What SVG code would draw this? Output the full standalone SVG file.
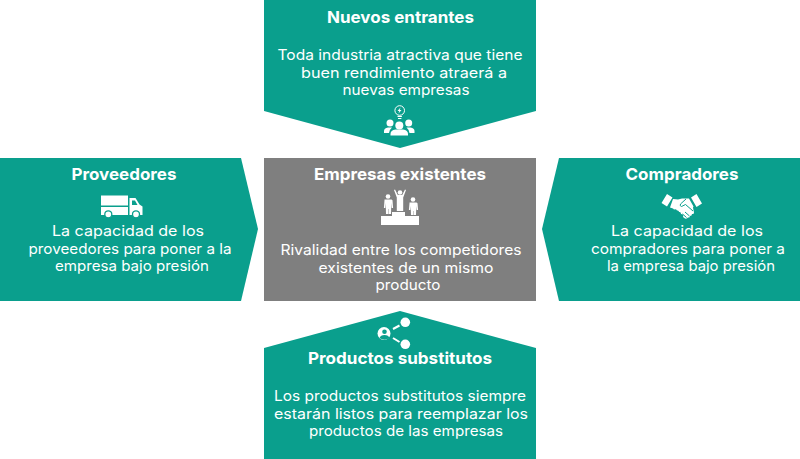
<svg xmlns="http://www.w3.org/2000/svg" width="800" height="459" viewBox="0 0 800 459">
<style>
.t{fill:#0a9f8d}.g{fill:#7f7f7f}
text{fill:#fff;font-family:Inter,"Open Sans","Liberation Sans",sans-serif;text-anchor:middle}
.h{font-size:16.5px;font-weight:700}
.b{font-size:14.5px;font-weight:400}
.w{fill:#fff}.s{stroke:#fff;fill:none;stroke-width:1.5}
.c{stroke:#0a9f8d;fill:none;stroke-width:1}
</style>
<rect width="800" height="459" fill="#fff"/>
<g id="nuevos-entrantes">
<polygon class="t" points="264,0 536,0 536,111 400,148 264,111"/>
<text class="h" x="400.500" y="23" textLength="147" lengthAdjust="spacingAndGlyphs">Nuevos entrantes</text>
<text class="b" x="400" y="60" textLength="245" lengthAdjust="spacingAndGlyphs">Toda industria atractiva que tiene</text>
<text class="b" x="404" y="78" textLength="206" lengthAdjust="spacingAndGlyphs">buen rendimiento atraerá a</text>
<text class="b" x="406" y="95" textLength="127" lengthAdjust="spacingAndGlyphs">nuevas empresas</text>
<g>
<circle class="s" cx="399.700" cy="110.500" r="4.800" style="stroke-width:1"/>
<path class="w" d="M400.500 107.500l-3 3.500h1.800l-.8 2.500 3-3.500h-1.800z"/>
<path class="s" style="stroke-width:1" d="M397.500 116.500h4.400M398 118.500h3.400"/>
<circle class="w" cx="390" cy="123" r="3.500"/><circle class="w" cx="408.700" cy="123" r="3.500"/><circle class="w" cx="399.300" cy="125.500" r="4"/>
<path class="w" d="M384 133v-2q0-3 4-3.500h4q-2.500 2-3 5.500zM414.500 133v-2q0-3-4-3.500h-4q2.500 2 3 5.500zM390.500 135.500v-1.500q0-4 5-4.500h7.500q5 .5 5 4.500v1.500z"/>
</g>
</g>
<g id="empresas-existentes">
<rect class="g" x="264" y="158" width="272" height="143"/>
<text class="h" x="400" y="180" textLength="172" lengthAdjust="spacingAndGlyphs">Empresas existentes</text>
<text class="b" x="401" y="255" textLength="241" lengthAdjust="spacingAndGlyphs">Rivalidad entre los competidores</text>
<text class="b" x="406" y="273" textLength="175" lengthAdjust="spacingAndGlyphs">existentes de un mismo</text>
<text class="b" x="408" y="290" textLength="65" lengthAdjust="spacingAndGlyphs">producto</text>
<g>
<path class="w" d="M381 225v-9h11v-4h13v4h14v9z"/>
<circle class="w" cx="388" cy="196.500" r="2.300"/><circle class="w" cx="400" cy="192.500" r="2.300"/><circle class="w" cx="413" cy="199.500" r="2.300"/>
<path class="w" d="M384.500 199.500h7l1 .8.600 7.700h-1.400l-.4-5-.3 11h-2.300v-5h-.4v5h-2.300l-.3-11-.4 5h-1.400l.6-7.700z"/>
<path class="w" d="M394 190l1 -.4 2.800 5.400h4.400l2.800-5.400 1 .4-2.800 7.500v13.500h-6.400v-13.500z"/>
<path class="w" d="M409.500 202.500h7l1 .8.600 6.700h-1.400l-.4-4-.3 9h-2.300v-4h-.4v4h-2.300l-.3-9-.4 4h-1.400l.6-6.700z"/>
</g>
</g>
<g id="proveedores">
<polygon class="t" points="0,158 241,158 258,229 241,301 0,301"/>
<text class="h" x="124" y="180" textLength="105" lengthAdjust="spacingAndGlyphs">Proveedores</text>
<text class="b" x="128" y="236" textLength="152" lengthAdjust="spacingAndGlyphs">La capacidad de los</text>
<text class="b" x="130" y="254" textLength="203" lengthAdjust="spacingAndGlyphs">proveedores para poner a la</text>
<text class="b" x="132" y="271" textLength="154" lengthAdjust="spacingAndGlyphs">empresa bajo presión</text>
<g>
<rect class="w" x="101" y="195.500" width="27" height="10"/>
<rect class="w" x="101" y="207" width="27" height="8"/>
<path class="w" d="M129.500 198h6l4 6.500 3 2v8.500h-13z"/>
<path class="t" d="M132 200.500h3l2.500 4.500h-5.500z"/>
<circle class="w" cx="108.300" cy="214.300" r="3.500" stroke="#0a9f8d" stroke-width="1.300"/>
<circle class="w" cx="136" cy="214.300" r="3.500" stroke="#0a9f8d" stroke-width="1.300"/>
</g>
</g>
<g id="compradores">
<polygon class="t" points="559,158 800,158 800,301 559,301 542,229"/>
<text class="h" x="682" y="180" textLength="113" lengthAdjust="spacingAndGlyphs">Compradores</text>
<text class="b" x="687" y="236" textLength="152" lengthAdjust="spacingAndGlyphs">La capacidad de los</text>
<text class="b" x="688" y="254" textLength="194" lengthAdjust="spacingAndGlyphs">compradores para poner a</text>
<text class="b" x="691" y="271" textLength="168" lengthAdjust="spacingAndGlyphs">la empresa bajo presión</text>
<g>
<path class="w" d="M667 194l5.500 3.500-5.500 9-5.500-3.500zM696.500 194l5.500 9.500-5.500 3.500-5.500-9.500z"/>
<path class="w" d="M673 199l5 .5 4-1 7 0 4.500 8 -.5 1 1 5q0 2-2 1.500 0 2-2 2 0 2-2 1.500-1 1.500-3 1l-2-1.500q1-3-2-3 0-2.500-2-2 0-2-2-1.500-1-2-3-1l-1-1-3-1z"/>
<path class="c" d="M686 199l-5.500 5q-1 2 1 2.500l4-2 7.500 6.500M685 212l4.500 4M682.500 214l4 3.500M680 216l3 2.500"/>
</g>
</g>
<g id="productos-substitutos">
<polygon class="t" points="400,311 536,348 536,459 264,459 264,348"/>
<text class="h" x="400" y="364" textLength="184" lengthAdjust="spacingAndGlyphs">Productos substitutos</text>
<text class="b" x="400" y="401" textLength="252" lengthAdjust="spacingAndGlyphs">Los productos substitutos siempre</text>
<text class="b" x="401" y="419" textLength="254" lengthAdjust="spacingAndGlyphs">estarán listos para reemplazar los</text>
<text class="b" x="406" y="436" textLength="194" lengthAdjust="spacingAndGlyphs">productos de las empresas</text>
<g>
<circle class="w" cx="384" cy="333.500" r="6.500"/>
<circle class="t" cx="384.500" cy="331.800" r="2.300"/>
<path class="t" d="M379.500 338q1-3 5-3t5 3q-2.500 1.800-5 1.800t-5-1.800z"/>
<circle class="w" cx="405.300" cy="322.300" r="4.800"/><circle class="w" cx="405.300" cy="344.300" r="4.800"/>
<path class="s" style="stroke-width:2" d="M393 329l6.500-3.500M393 338l6.500 4"/>
</g>
</g>
<g id="connectors"></g>
</svg>
